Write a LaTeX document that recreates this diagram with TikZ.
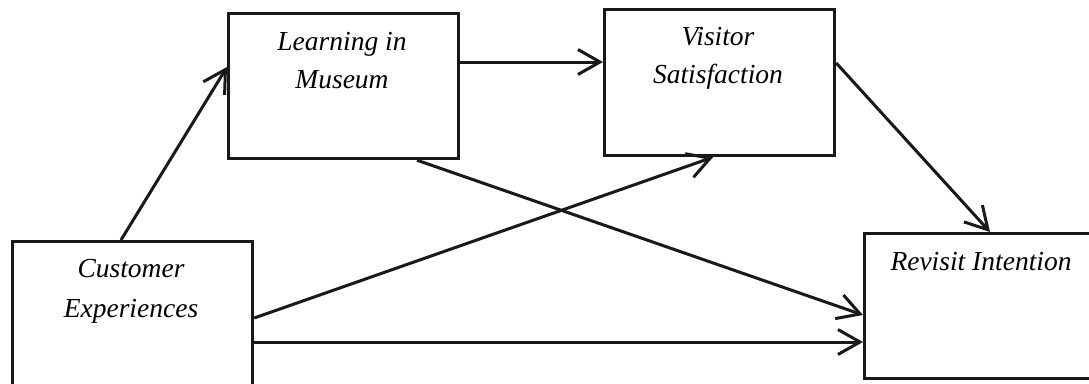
\documentclass[tikz,border=0pt]{standalone}
\usepackage{fontspec}
\setmainfont{Liberation Serif}
\usetikzlibrary{arrows.meta,calc}
\begin{document}
\begin{tikzpicture}[x=1pt,y=-1pt,
  box/.style={draw, line width=3.2pt, rectangle, inner sep=0pt, anchor=north west, draw=black!90},
  lbl/.style={font=\fontsize{27.5}{40}\selectfont\itshape, anchor=base, inner sep=0pt},
  arr/.style={-{Straight Barb[length=22pt,width=25pt,line width=3pt]}, line width=3pt, draw=black!90}]
\useasboundingbox (0,0) rectangle (1089,383);
\clip (0,0) rectangle (1089,383);
\fill[white] (0,0) rectangle (1089,383);
\node[box, minimum width=240pt, minimum height=150pt] (cust) at (11,240) {};
\node[box, minimum width=230pt, minimum height=145pt] (learn) at (227,12) {};
\node[box, minimum width=230pt, minimum height=146pt] (visit) at (603,8) {};
\node[box, minimum width=236pt, minimum height=145pt] (rev) at (863,232) {};
\node[lbl] (t1) at (131,277) {Customer};
\node[lbl] (t2) at (131,317) {Experiences};
\node[lbl] (t3) at (342,50) {Learning in};
\node[lbl] (t4) at (342,88) {Museum};
\node[lbl] (t5) at (718,45) {Visitor};
\node[lbl] (t6) at (718,83) {Satisfaction};
\node[lbl] (t7) at (981,270) {Revisit Intention};
\draw[arr] ($(cust.north west)+(110,0)$) -- ($(learn.north west)+(0,55)$);
\draw[arr] ($(learn.north east)+(0,50)$) -- ($(visit.north west)+(0,54)$);
\draw[arr] ($(visit.north east)+(0,55)$) -- ($(rev.north west)+(127,0)$);
\draw[arr] ($(learn.south west)+(190,0)$) -- ($(rev.north west)+(0,83)$);
\draw[arr] ($(cust.north east)+(0,78)$) -- ($(visit.south west)+(110,0)$);
\draw[arr] ($(cust.north east)+(0,102)$) -- ($(rev.north west)+(0,110)$);
\end{tikzpicture}
\end{document}
